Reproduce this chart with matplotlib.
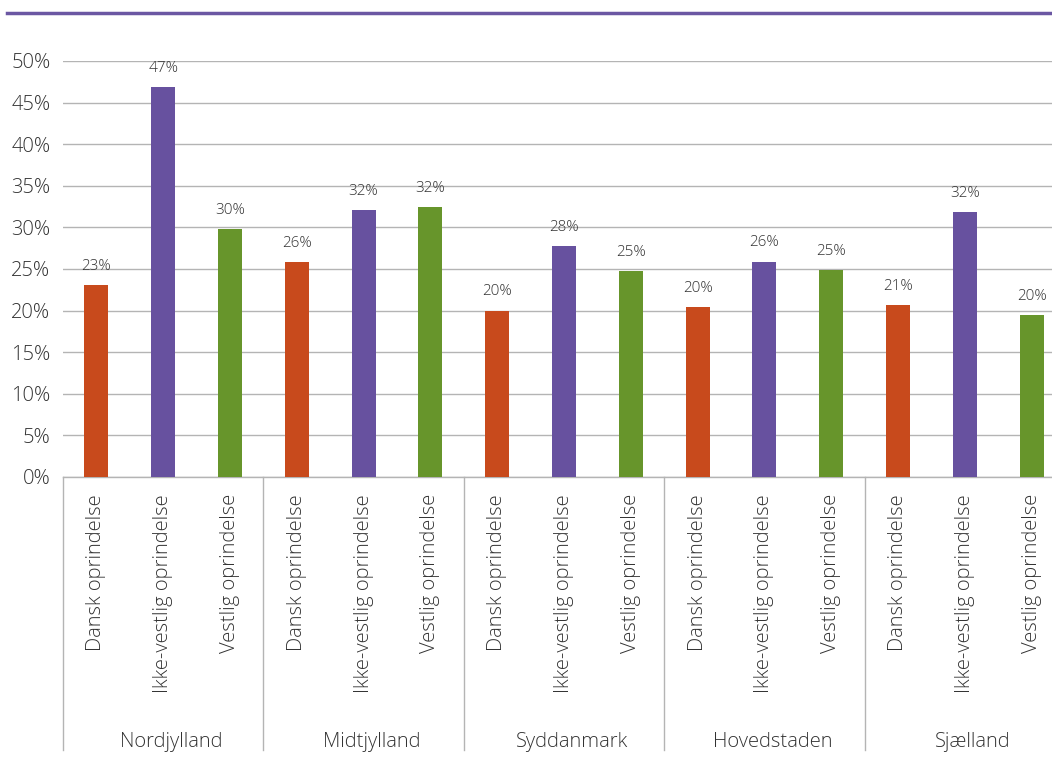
import matplotlib
matplotlib.use("Agg")
import matplotlib.pyplot as plt
import matplotlib.transforms as mtransforms
import numpy as np

plt.rcParams['font.family'] = ['Open Sans', 'DejaVu Sans']
plt.rcParams['font.weight'] = 'light'

regions = ["Nordjylland", "Midtjylland", "Syddanmark", "Hovedstaden", "Sjælland"]
origins = ["Dansk oprindelse", "Ikke-vestlig oprindelse", "Vestlig oprindelse"]
dansk = [23.1, 25.8, 20.0, 20.4, 20.7]
ikke_vestlig = [46.9, 32.1, 27.8, 25.9, 31.8]
vestlig = [29.8, 32.4, 24.8, 24.9, 19.5]

colors = ["#C84A1C", "#67519F", "#67952B"]
text_col = "#333333"
grid_col = "#B4B4B4"

W, H = 1052, 776
fig = plt.figure(figsize=(W / 100, H / 100), dpi=100)

# axes placed in pixel terms: x from 63 to 1065, y from 61 (50%) to 477 (0%)
left, right = 63, 1065
top, bottom = 61, 477
ax = fig.add_axes([left / W, (H - bottom) / H, (right - left) / W, (bottom - top) / H])

series = [dansk, ikke_vestlig, vestlig]
n_groups = len(regions)
bar_w = 0.36
for gi in range(n_groups):
    for si, vals in enumerate(series):
        x = gi * 3 + si
        v = vals[gi] / 100
        ax.bar(x, v, width=bar_w, color=colors[si], zorder=3)
        ax.annotate(f"{vals[gi]:.0f}%", (x, v), xytext=(0, 8), textcoords="offset points",
                    ha="center", va="bottom", fontsize=11, color=text_col, annotation_clip=False)

ax.set_xlim(-0.5, n_groups * 3 - 0.5)
ax.set_ylim(0, 0.5)
yt = np.arange(0, 0.51, 0.05)
ax.set_yticks(yt)
ax.set_yticklabels([f"{int(round(t * 100))}%" for t in yt], fontsize=14.5, color=text_col)
ax.tick_params(axis="y", length=0, pad=9)
ax.set_xticks([])
ax.grid(axis="y", color=grid_col, linewidth=1, zorder=0)
for s in ["left", "right", "top"]:
    ax.spines[s].set_visible(False)
ax.spines["bottom"].set_color(grid_col)
ax.spines["bottom"].set_linewidth(1)

trans = mtransforms.blended_transform_factory(ax.transData, ax.transAxes)
px = 1.0 / (bottom - top)
for gi in range(n_groups):
    for si in range(3):
        x = gi * 3 + si
        ax.text(x, -17 * px, origins[si], rotation=90, ha="center", va="top",
                fontsize=14.5, color=text_col, transform=trans)
    ax.annotate(regions[gi], (gi * 3 + 1, -265 * px), xycoords=trans,
                xytext=(6, 0), textcoords="offset points",
                ha="center", va="center", fontsize=14.5, color=text_col,
                annotation_clip=False)
for gi in range(n_groups + 1):
    xb = gi * 3 - 0.5
    ax.plot([xb, xb], [0, -273 * px], color=grid_col, linewidth=1,
            transform=trans, clip_on=False)

# header rule
fig.add_artist(plt.Line2D([7 / W, 1.0], [(H - 13) / H, (H - 13) / H],
                          color="#6B57A3", linewidth=2.5, transform=fig.transFigure))

fig.savefig("out.png", dpi=100, facecolor="white")
